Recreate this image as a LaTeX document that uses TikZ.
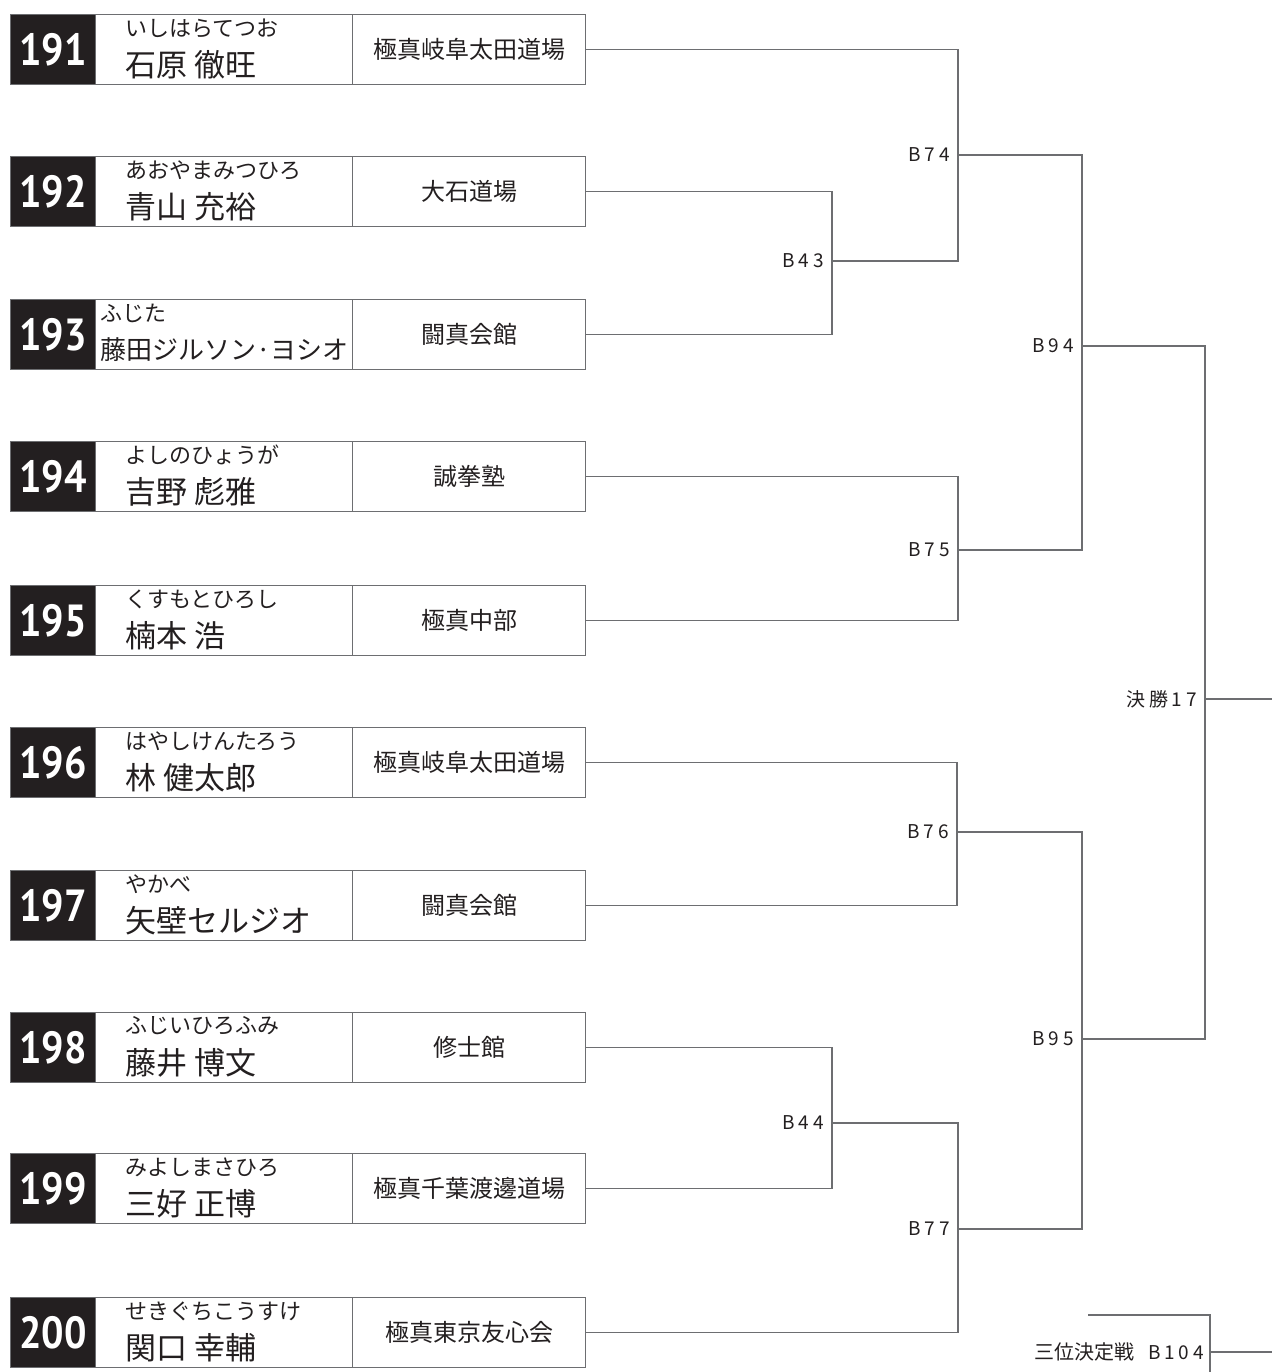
\documentclass[tikz,border=0pt]{standalone}
\usepackage{fontspec}
\setmainfont{Noto Sans CJK JP}
\newfontfamily\jpfont{Noto Sans CJK JP}
\newfontfamily\lblfont{Noto Sans CJK JP}[LetterSpace=20]
\newfontfamily\numfont{PT Sans}
\definecolor{ink}{HTML}{231F20}
\definecolor{rulec}{HTML}{6D6E71}

\newcommand\racer[7]{%
  \node[numbox] (k#1) at (10,#2) {};
  \node[numtxt] (t#1) at (k#1.center) {\scalebox{0.88}[1]{#1}};
  \node[namebox] (p#1) at (95,#2) {};
  \node[dojobox] (d#1) at (352,#2) {#5};
  \node[kana] (f#1) at (#6,#2+14) {#3};
  \node[kanji, font=\fontsize{#7}{#7}\selectfont] (m#1) at (#6,#2+51) {#4};
}

\begin{document}
\begin{tikzpicture}[x=1pt,y=-1pt,
  cell/.style={draw=rulec, line width=1.2pt, minimum height=70pt, inner sep=0pt, anchor=north west},
  numbox/.style={cell, fill=ink, minimum width=85pt},
  namebox/.style={cell, minimum width=257pt},
  dojobox/.style={cell, minimum width=233pt, text=ink, font=\fontsize{24}{24}\selectfont},
  numtxt/.style={text=white, inner sep=0pt, font=\numfont\bfseries\fontsize{45}{45}\selectfont},
  kana/.style={anchor=west, inner sep=0pt, text=ink, font=\fontsize{22}{22}\selectfont},
  kanji/.style={anchor=west, inner sep=0pt, text=ink},
  wire/.style={draw=rulec, line width=1.3pt},
  lbl/.style={anchor=east, inner sep=0pt, text=ink, font=\lblfont\fontsize{19}{19}\selectfont}]

\useasboundingbox (0,0) rectangle (1272,1372);

\racer{191}{14}{いしはらてつお}{石原 徹旺}{極真岐阜太田道場}{125}{31}
\racer{192}{156}{あおやまみつひろ}{青山 充裕}{大石道場}{125}{31}
\racer{193}{299}{ふじた}{藤田ジルソン·ヨシオ}{闘真会館}{100}{26}
\racer{194}{441}{よしのひょうが}{吉野 彪雅}{誠拳塾}{125}{31}
\racer{195}{585}{くすもとひろし}{楠本 浩}{極真中部}{125}{31}
\racer{196}{727}{はやしけんたろう}{林 健太郎}{極真岐阜太田道場}{125}{31}
\racer{197}{870}{やかべ}{矢壁セルジオ}{闘真会館}{125}{31}
\racer{198}{1012}{ふじいひろふみ}{藤井 博文}{修士館}{125}{31}
\racer{199}{1153}{みよしまさひろ}{三好 正博}{極真千葉渡邊道場}{125}{31}
\racer{200}{1297}{せきぐちこうすけ}{関口 幸輔}{極真東京友心会}{125}{31}

\coordinate (B43) at (832,261);
\coordinate (B74) at (958,155);
\coordinate (B75) at (958,550);
\coordinate (B94) at (1082,346);
\coordinate (B76) at (957,832);
\coordinate (B44) at (832,1123);
\coordinate (B77) at (958,1229);
\coordinate (B95) at (1082,1039);
\coordinate (F17) at (1205,699);
\coordinate (Fend) at (1272,699);

\draw[wire] (d192.east) -| (B43) |- (d193.east);
\draw[wire] (d191.east) -| (B74) |- (B43);
\draw[wire] (d194.east) -| (B75) |- (d195.east);
\draw[wire] (B74) -| (B94) |- (B75);
\draw[wire] (d196.east) -| (B76) |- (d197.east);
\draw[wire] (d198.east) -| (B44) |- (d199.east);
\draw[wire] (B44) -| (B77) |- (d200.east);
\draw[wire] (B76) -| (B95) |- (B77);
\draw[wire] (B94) -| (F17) |- (B95);
\draw[wire] (F17) -- (Fend);

\node[lbl] (lB43) at ([xshift=-8]B43) {B43};
\node[lbl] (lB74) at ([xshift=-8]B74) {B74};
\node[lbl] (lB75) at ([xshift=-8]B75) {B75};
\node[lbl] (lB94) at ([xshift=-8]B94) {B94};
\node[lbl] (lB76) at ([xshift=-8]B76) {B76};
\node[lbl] (lB44) at ([xshift=-8]B44) {B44};
\node[lbl] (lB77) at ([xshift=-8]B77) {B77};
\node[lbl] (lB95) at ([xshift=-8]B95) {B95};
\node[lbl] (lF17) at ([xshift=-8]F17) {決勝17};

\coordinate (T0) at (1088,1315);
\coordinate (T1) at (1210,1372);
\coordinate (B104) at (1210,1352);
\coordinate (T2) at (1272,1352);
\draw[wire] (T0) -| (T1);
\draw[wire] (B104) -- (T2);
\node[lbl] (lB104) at ([xshift=-6]B104) {{\jpfont\fontsize{20}{20}\selectfont 三位決定戦}\hspace{14pt}B104};
\end{tikzpicture}
\end{document}
